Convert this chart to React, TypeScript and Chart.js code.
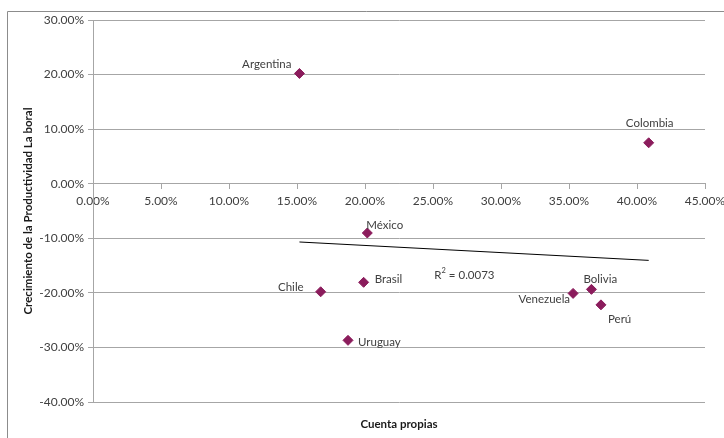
import { useEffect, useRef } from 'react';
import { Chart, registerables } from 'chart.js';

Chart.register(...registerables);

// ---- data ----
const countries = ['Argentina', 'Colombia', 'México', 'Brasil', 'Chile', 'Uruguay', 'Venezuela', 'Bolivia', 'Perú'];
const cuentaPropia = [15.18, 40.86, 20.17, 19.9, 16.74, 18.75, 35.3, 36.65, 37.35];
const crecimiento = [20.2, 7.5, -9.03, -18.07, -19.8, -28.7, -20.1, -19.36, -22.2];
const trendX = [15.18, 40.86];
const trendY = [-10.68, -14.05];
const rSquared = '0.0073';
const rLabelX = 25.1;
const rLabelY = -16.7;
const xMin = 0, xMax = 45, xStep = 5;
const yMin = -40, yMax = 30, yStep = 10;
const xTitle = 'Cuenta propias';
const yTitle = 'Crecimiento de la Productividad La boral';

// ---- label placement (style) ----
const labelPlacement: { align: CanvasTextAlign; dx: number; dy: number }[] = [
  { align: 'right', dx: -8, dy: -9 },
  { align: 'center', dx: 1, dy: -19 },
  { align: 'left', dx: -1, dy: -8 },
  { align: 'left', dx: 11, dy: -3 },
  { align: 'right', dx: -17, dy: -4 },
  { align: 'left', dx: 10, dy: 2 },
  { align: 'right', dx: -3, dy: 6 },
  { align: 'left', dx: -8, dy: -10 },
  { align: 'left', dx: 7, dy: 14 },
];

const FONT = 'Lato';
const GRID = '#a6a6a6';
const TEXT = '#404040';
const MARKER = '#8b1c5c';

const decorPlugin = {
  id: 'decor',
  beforeDraw(chart: any) {
    const ctx = chart.ctx as CanvasRenderingContext2D;
    ctx.save();
    ctx.strokeStyle = '#8c8c8c';
    ctx.lineWidth = 1;
    ctx.beginPath();
    ctx.moveTo(7.5, 460);
    ctx.lineTo(7.5, 11.5);
    ctx.lineTo(760, 11.5);
    ctx.stroke();
    ctx.restore();
  },
  afterDatasetsDraw(chart: any) {
    const ctx = chart.ctx as CanvasRenderingContext2D;
    const meta = chart.getDatasetMeta(1);
    ctx.save();
    ctx.font = `11.5px ${FONT}`;
    ctx.fillStyle = TEXT;
    ctx.textBaseline = 'middle';
    meta.data.forEach((pt: any, i: number) => {
      const p = labelPlacement[i];
      ctx.textAlign = p.align;
      ctx.fillText(countries[i], pt.x + p.dx, pt.y + p.dy);
    });
    const rx = chart.scales.x.getPixelForValue(rLabelX);
    const ry = chart.scales.y.getPixelForValue(rLabelY);
    ctx.textAlign = 'left';
    ctx.fillText('R', rx, ry);
    const w = ctx.measureText('R').width;
    ctx.font = `7.5px ${FONT}`;
    ctx.fillText('2', rx + w, ry - 4);
    const w2 = ctx.measureText('2').width;
    ctx.font = `11.5px ${FONT}`;
    ctx.fillText(' = ' + rSquared, rx + w + w2, ry);

    const ca = chart.chartArea;
    ctx.font = `bold 11.5px ${FONT}`;
    ctx.fillStyle = '#1a1a1a';
    ctx.textAlign = 'center';
    ctx.fillText(xTitle, (ca.left + ca.right) / 2, 424);
    ctx.translate(28, (ca.top + ca.bottom) / 2);
    ctx.rotate(-Math.PI / 2);
    ctx.fillText(yTitle, 0, 0);
    ctx.restore();
  },
};

export default function App() {
  const ref = useRef<HTMLCanvasElement | null>(null);
  useEffect(() => {
    if (!ref.current) return;
    const chart = new Chart(ref.current, {
      type: 'scatter',
      data: {
        datasets: [
          {
            type: 'line',
            label: 'Tendencia',
            data: trendX.map((x, i) => ({ x, y: trendY[i] })),
            borderColor: '#000000',
            borderWidth: 1,
            pointRadius: 0,
            fill: false,
          } as any,
          {
            label: 'Países',
            data: cuentaPropia.map((x, i) => ({ x, y: crecimiento[i] })),
            pointStyle: 'rectRot',
            pointRadius: 5,
            backgroundColor: MARKER,
            borderColor: MARKER,
            borderWidth: 1,
          },
        ],
      },
      options: {
        animation: false,
        responsive: false,
        devicePixelRatio: 1,
        layout: { padding: { left: 0, right: 19, top: 20, bottom: 36 } },
        plugins: { legend: { display: false }, tooltip: { enabled: false } },
        scales: {
          x: {
            type: 'linear',
            position: { y: 0 } as any,
            min: xMin,
            max: xMax,
            afterFit: (s: any) => {
              s.paddingRight = 0;
              s.paddingLeft = 0;
            },
            ticks: {
              stepSize: xStep,
              padding: 5,
              color: TEXT,
              font: { family: FONT, size: 12 },
              maxRotation: 0,
              callback: (v: any) => Number(v).toFixed(2) + '%',
            },
            grid: { drawOnChartArea: false, drawTicks: true, tickLength: 5, color: GRID },
            border: { display: true, color: GRID },
          },
          y: {
            type: 'linear',
            position: 'left',
            min: yMin,
            max: yMax,
            afterFit: (s: any) => {
              s.width = 93;
            },
            ticks: {
              stepSize: yStep,
              padding: 4,
              color: TEXT,
              font: { family: FONT, size: 12 },
              callback: (v: any) => Number(v).toFixed(2) + '%',
            },
            grid: { drawOnChartArea: true, drawTicks: true, tickLength: 5, color: GRID },
            border: { display: true, color: GRID },
          },
        },
      },
      plugins: [decorPlugin],
    });
    return () => chart.destroy();
  }, []);
  return (
    <div style={{ position: 'fixed', left: 0, top: 0, width: 724, height: 438, background: '#fff' }}>
      <canvas ref={ref} width={724} height={438} style={{ width: 724, height: 438 }} />
    </div>
  );
}
